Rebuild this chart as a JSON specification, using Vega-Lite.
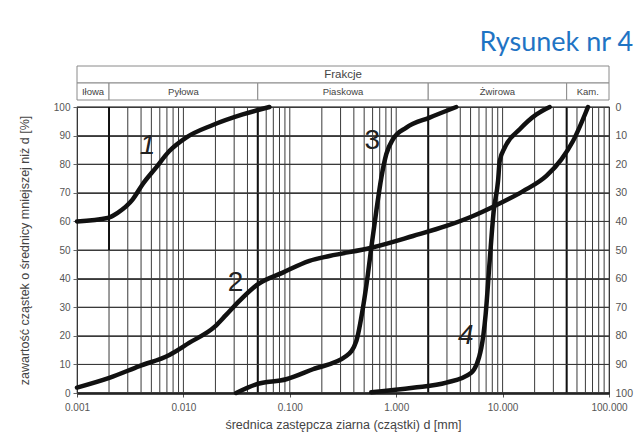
{
  "$schema": "https://vega.github.io/schema/vega-lite/v6.json",
  "padding": {"left": 17, "top": 28, "right": 5, "bottom": 5},
  "background": "white",
  "title": {"text": "Rysunek nr 4", "anchor": "end", "color": "#1f74c4", "fontSize": 27, "font": "Lato", "fontWeight": "normal", "offset": 9},
  "datasets": {
    "curves": [
      {"curve": "1", "d": 0.001, "p": 60}, {"curve": "1", "d": 0.00194, "p": 61.2}, {"curve": "1", "d": 0.00241, "p": 63}, {"curve": "1", "d": 0.00334, "p": 67.7}, {"curve": "1", "d": 0.00414, "p": 73}, {"curve": "1", "d": 0.00553, "p": 78.8}, {"curve": "1", "d": 0.00738, "p": 84.6}, {"curve": "1", "d": 0.0106, "p": 89.3}, {"curve": "1", "d": 0.0189, "p": 93.7}, {"curve": "1", "d": 0.0361, "p": 97.4}, {"curve": "1", "d": 0.0644, "p": 100},
      {"curve": "2", "d": 0.001, "p": 1.9}, {"curve": "2", "d": 0.00201, "p": 5.3}, {"curve": "2", "d": 0.00386, "p": 9.4}, {"curve": "2", "d": 0.00738, "p": 13.3}, {"curve": "2", "d": 0.0114, "p": 17.6}, {"curve": "2", "d": 0.0196, "p": 23.1}, {"curve": "2", "d": 0.0252, "p": 27.3}, {"curve": "2", "d": 0.0336, "p": 32.2}, {"curve": "2", "d": 0.05, "p": 38}, {"curve": "2", "d": 0.0859, "p": 42.1}, {"curve": "2", "d": 0.153, "p": 46.2}, {"curve": "2", "d": 0.236, "p": 47.9}, {"curve": "2", "d": 0.583, "p": 50.8}, {"curve": "2", "d": 1.44, "p": 54.9}, {"curve": "2", "d": 2.96, "p": 58.4}, {"curve": "2", "d": 5.27, "p": 61.9}, {"curve": "2", "d": 8.43, "p": 65.4}, {"curve": "2", "d": 15.6, "p": 70.6}, {"curve": "2", "d": 25.8, "p": 75.9}, {"curve": "2", "d": 35.7, "p": 81.7}, {"curve": "2", "d": 45.9, "p": 88.1}, {"curve": "2", "d": 63.5, "p": 100},
      {"curve": "3", "d": 0.0313, "p": 0}, {"curve": "3", "d": 0.0483, "p": 3.0}, {"curve": "3", "d": 0.0925, "p": 4.8}, {"curve": "3", "d": 0.165, "p": 8.3}, {"curve": "3", "d": 0.339, "p": 12.9}, {"curve": "3", "d": 0.422, "p": 18.2}, {"curve": "3", "d": 0.487, "p": 29.8}, {"curve": "3", "d": 0.542, "p": 41.5}, {"curve": "3", "d": 0.583, "p": 50.8}, {"curve": "3", "d": 0.65, "p": 63.6}, {"curve": "3", "d": 0.725, "p": 75.3}, {"curve": "3", "d": 0.807, "p": 83.5}, {"curve": "3", "d": 0.931, "p": 88.7}, {"curve": "3", "d": 1.245, "p": 92.8}, {"curve": "3", "d": 2.06, "p": 96.3}, {"curve": "3", "d": 3.67, "p": 100},
      {"curve": "4", "d": 0.583, "p": 0.3}, {"curve": "4", "d": 1.436, "p": 1.85}, {"curve": "4", "d": 2.96, "p": 3.6}, {"curve": "4", "d": 5.08, "p": 7.1}, {"curve": "4", "d": 6.31, "p": 15.8}, {"curve": "4", "d": 6.93, "p": 27.5}, {"curve": "4", "d": 7.56, "p": 46.2}, {"curve": "4", "d": 8.25, "p": 63.6}, {"curve": "4", "d": 9.06, "p": 74.1}, {"curve": "4", "d": 9.39, "p": 81.1}, {"curve": "4", "d": 10.47, "p": 85.8}, {"curve": "4", "d": 14.5, "p": 92.2}, {"curve": "4", "d": 20.8, "p": 97.4}, {"curve": "4", "d": 27.7, "p": 100}
    ],
    "labels": [
      {"curve": "1", "d": 0.00461, "p": 86.4},
      {"curve": "2", "d": 0.0309, "p": 38.6},
      {"curve": "3", "d": 0.596, "p": 88.1},
      {"curve": "4", "d": 4.5, "p": 19.9}
    ],
    "grid": [
      {"d": 0.002}, {"d": 0.003}, {"d": 0.004}, {"d": 0.005}, {"d": 0.006}, {"d": 0.007}, {"d": 0.008}, {"d": 0.009},
      {"d": 0.01}, {"d": 0.02}, {"d": 0.03}, {"d": 0.04}, {"d": 0.05}, {"d": 0.06}, {"d": 0.07}, {"d": 0.08}, {"d": 0.09},
      {"d": 0.1}, {"d": 0.2}, {"d": 0.3}, {"d": 0.4}, {"d": 0.5}, {"d": 0.6}, {"d": 0.7}, {"d": 0.8}, {"d": 0.9},
      {"d": 1}, {"d": 2}, {"d": 3}, {"d": 4}, {"d": 5}, {"d": 6}, {"d": 7}, {"d": 8}, {"d": 9},
      {"d": 10}, {"d": 20}, {"d": 30}, {"d": 40}, {"d": 50}, {"d": 60}, {"d": 70}, {"d": 80}, {"d": 90}
    ],
    "boundaries": [{"d": 0.05}, {"d": 2}, {"d": 40}],
    "hgrid": [{"p": 0}, {"p": 10}, {"p": 20}, {"p": 30}, {"p": 40}, {"p": 50}, {"p": 60}, {"p": 70}, {"p": 80}, {"p": 90}, {"p": 100}],
    "header": [
      {"row": "a", "name": "Frakcje", "from": 0.001, "to": 100},
      {"row": "b", "name": "Iłowa", "from": 0.001, "to": 0.002},
      {"row": "b", "name": "Pyłowa", "from": 0.002, "to": 0.05},
      {"row": "b", "name": "Piaskowa", "from": 0.05, "to": 2},
      {"row": "b", "name": "Żwirowa", "from": 2, "to": 40},
      {"row": "b", "name": "Kam.", "from": 40, "to": 100}
    ]
  },
  "vconcat": [
    {
      "width": 532,
      "height": 34,
      "view": {"stroke": null},
      "data": {"name": "header"},
      "layer": [
        {
          "mark": {"type": "rect", "fill": "white", "stroke": "#8a8a8a", "strokeWidth": 1},
          "encoding": {
            "x": {"field": "from", "type": "quantitative", "scale": {"type": "log", "domain": [0.001, 100], "nice": false}, "axis": null},
            "x2": {"field": "to"},
            "y": {"field": "row", "type": "nominal", "axis": null, "scale": {"paddingInner": 0, "paddingOuter": 0}}
          }
        },
        {
          "transform": [{"calculate": "sqrt(datum.from * datum.to)", "as": "mid"}],
          "mark": {"type": "text", "font": "Liberation Sans", "color": "#444", "fontSize": {"expr": "datum.row == 'a' ? 11.5 : 9.5"}},
          "encoding": {
            "x": {"field": "mid", "type": "quantitative", "scale": {"type": "log", "domain": [0.001, 100], "nice": false}, "axis": null},
            "y": {"field": "row", "type": "nominal", "axis": null},
            "text": {"field": "name"}
          }
        }
      ]
    },
    {
      "width": 532,
      "height": 286,
      "view": {"stroke": "#222", "strokeWidth": 1.2},
      "layer": [
        {
          "data": {"name": "grid"},
          "mark": {"type": "rule", "color": "#3a3a3a", "strokeWidth": 1},
          "encoding": {
            "x": {"field": "d", "type": "quantitative", "scale": {"type": "log", "domain": [0.001, 100], "nice": false},
                  "axis": {"values": [0.001, 0.01, 0.1, 1, 10, 100], "format": ".3f", "grid": false, "labelFlush": false, "title": "średnica zastępcza ziarna (cząstki) d [mm]", "tickSize": 4, "labelPadding": 5, "domainColor": "#111", "domainWidth": 2.5, "tickColor": "#555", "titlePadding": 6}}
          }
        },
        {
          "data": {"name": "boundaries"},
          "mark": {"type": "rule", "color": "#111", "strokeWidth": 2},
          "encoding": {"x": {"field": "d", "type": "quantitative"}}
        },
        {
          "data": {"name": "hgrid"},
          "mark": {"type": "rule", "color": "#3a3a3a", "strokeWidth": 1},
          "encoding": {
            "y": {"field": "p", "type": "quantitative", "scale": {"domain": [0, 100], "nice": false, "reverse": true},
                  "axis": {"orient": "right", "values": [0, 10, 20, 30, 40, 50, 60, 70, 80, 90, 100], "domain": false, "ticks": false, "grid": false, "title": null, "labelPadding": 6, "labelAlign": "left", "labelFontSize": 10.5}}
          }
        },
        {
          "data": {"values": [{"d": 0.002}]},
          "mark": {"type": "rule", "color": "#111", "strokeWidth": 2},
          "encoding": {"x": {"field": "d", "type": "quantitative"}, "y": {"datum": 50, "type": "quantitative", "scale": {"domain": [0, 100], "nice": false}, "axis": null}, "y2": {"datum": 100}}
        },
        {
          "data": {"name": "curves"},
          "mark": {"type": "line", "color": "#111", "strokeWidth": 4.5, "interpolate": "monotone", "strokeCap": "round", "strokeJoin": "round"},
          "encoding": {
            "x": {"field": "d", "type": "quantitative"},
            "y": {"field": "p", "type": "quantitative", "scale": {"domain": [0, 100], "nice": false},
                  "axis": {"orient": "left", "values": [0, 10, 20, 30, 40, 50, 60, 70, 80, 90, 100], "grid": true, "gridColor": "#3a3a3a", "gridWidth": 1, "gridOpacity": 1, "domain": false, "tickSize": 4, "tickColor": "#666", "labelPadding": 3, "title": "zawartość cząstek o średnicy mniejszej niż d [%]", "titlePadding": 22}},
            "detail": {"field": "curve"}
          }
        },
        {
          "data": {"name": "labels"},
          "transform": [{"filter": "datum.curve == '1' || datum.curve == '4'"}],
          "mark": {"type": "text", "font": "Liberation Sans", "fontStyle": "italic", "fontSize": 28, "color": "#222", "baseline": "middle"},
          "encoding": {"x": {"field": "d", "type": "quantitative"}, "y": {"field": "p", "type": "quantitative", "scale": {"domain": [0, 100], "nice": false}, "axis": null}, "text": {"field": "curve"}}
        },
        {
          "data": {"name": "labels"},
          "transform": [{"filter": "datum.curve == '2' || datum.curve == '3'"}],
          "mark": {"type": "text", "font": "Liberation Sans", "fontSize": 28, "color": "#222", "baseline": "middle"},
          "encoding": {"x": {"field": "d", "type": "quantitative"}, "y": {"field": "p", "type": "quantitative", "scale": {"domain": [0, 100], "nice": false}, "axis": null}, "text": {"field": "curve"}}
        }
      ],
      "resolve": {"scale": {"y": "independent"}, "axis": {"y": "independent"}}
    }
  ],
  "spacing": 7,
  "bounds": "flush",
  "resolve": {"scale": {"x": "independent", "y": "independent"}},
  "config": {
    "axis": {"labelFont": "Liberation Sans", "labelColor": "#555", "labelFontSize": 10, "titleFont": "Liberation Sans", "titleFontWeight": "normal", "titleColor": "#444", "titleFontSize": 12.5}
  }
}
